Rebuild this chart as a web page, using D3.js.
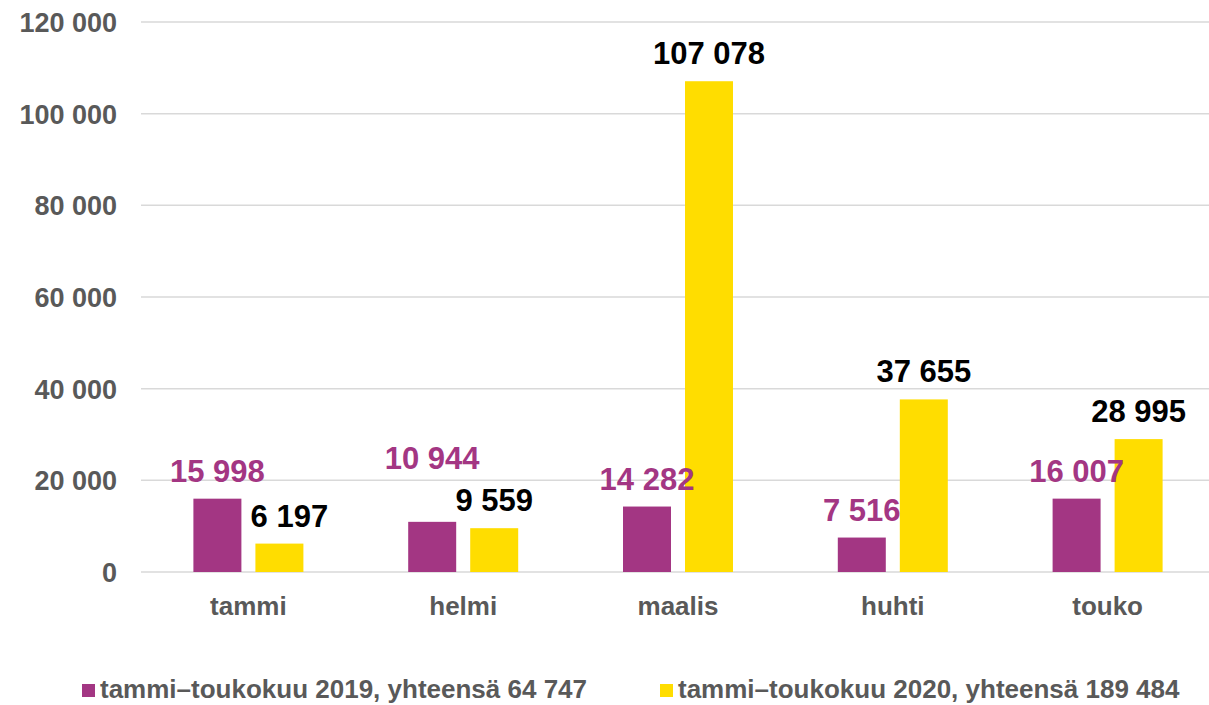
<!DOCTYPE html>
<html>
<head>
<meta charset="utf-8">
<script src="https://cdn.jsdelivr.net/npm/d3@7"></script>
<style>
  body { margin: 0; background: #fff; }
  text { font-family: "Liberation Sans", Arial, sans-serif; font-weight: bold; }
</style>
</head>
<body>
<div id="chart"></div>
<script>
// data
var months = ["tammi", "helmi", "maalis", "huhti", "touko"];
var values2019 = [15998, 10944, 14282, 7516, 16007];
var values2020 = [6197, 9559, 107078, 37655, 28995];
var seriesNames = ["tammi–toukokuu 2019, yhteensä 64 747", "tammi–toukokuu 2020, yhteensä 189 484"];
var yTicks = [0, 20000, 40000, 60000, 80000, 100000, 120000];

var colors = ["#a33683", "#ffdd00"],
    labelColors = ["#a33683", "#000000"];

var fullWidth = 1209, fullHeight = 705;
var margin = {top: 22, left: 141, bottom: 133},
    plotRight = 1215,
    height = fullHeight - margin.top - margin.bottom;

var fmt = function(v) { return d3.format(",")(v).replace(/,/g, " "); };

var svg = d3.select("#chart").append("svg")
    .attr("width", fullWidth)
    .attr("height", fullHeight);

var x0 = d3.scaleBand()
    .domain(months)
    .range([margin.left, plotRight])
    .paddingInner(0);

var x1 = d3.scaleBand()
    .domain([0, 1])
    .range([x0.bandwidth() / 2 - 55, x0.bandwidth() / 2 + 55])
    .paddingInner(0.226);

var y = d3.scaleLinear()
    .domain([0, 120000])
    .range([margin.top + height, margin.top]);

// gridlines
svg.append("g").selectAll("line")
    .data(yTicks)
    .enter().append("line")
    .attr("x1", margin.left)
    .attr("x2", plotRight)
    .attr("y1", function(d) { return y(d); })
    .attr("y2", function(d) { return y(d); })
    .attr("stroke", "#d9d9d9")
    .attr("stroke-width", 1.5);

// y axis labels
var yAxis = d3.axisLeft(y).tickValues(yTicks).tickFormat(fmt).tickSize(0).tickPadding(24);
svg.append("g")
    .attr("transform", "translate(" + margin.left + ",0)")
    .call(yAxis)
    .call(function(g) { g.select(".domain").remove(); })
    .selectAll("text")
    .attr("fill", "#595959")
    .attr("font-size", 27)
    .attr("dy", "0.35em");

// x axis labels
var xAxis = d3.axisBottom(x0).tickSize(0).tickPadding(25);
svg.append("g")
    .attr("transform", "translate(0," + y(0) + ")")
    .call(xAxis)
    .call(function(g) { g.select(".domain").remove(); })
    .selectAll("text")
    .attr("fill", "#595959")
    .attr("font-size", 26);

var rows = months.map(function(m, i) {
    return {month: m, vals: [values2019[i], values2020[i]]};
});

var groups = svg.append("g").selectAll("g")
    .data(rows)
    .enter().append("g")
    .attr("transform", function(d) { return "translate(" + x0(d.month) + ",0)"; });

groups.selectAll("rect")
    .data(function(d) { return d.vals; })
    .enter().append("rect")
    .attr("x", function(d, i) { return x1(i); })
    .attr("width", x1.bandwidth())
    .attr("y", function(d) { return y(d); })
    .attr("height", function(d) { return y(0) - y(d); })
    .attr("fill", function(d, i) { return colors[i]; });

// data labels (a couple nudged like in the original)
var nudge = {"helmi-0": [0, -36], "tammi-1": [10, 0]};

groups.each(function(row) {
    d3.select(this).selectAll("text.lbl")
        .data(row.vals)
        .enter().append("text")
        .attr("class", "lbl")
        .attr("x", function(d, i) {
            var n = nudge[row.month + "-" + i] || [0, 0];
            return x1(i) + x1.bandwidth() / 2 + n[0];
        })
        .attr("y", function(d, i) {
            var n = nudge[row.month + "-" + i] || [0, 0];
            return y(d) - 17 + n[1];
        })
        .attr("text-anchor", "middle")
        .attr("font-size", 31)
        .attr("fill", function(d, i) { return labelColors[i]; })
        .text(fmt);
});

// legend
var legendX = [82, 660];
var legend = svg.append("g").selectAll("g")
    .data(seriesNames)
    .enter().append("g")
    .attr("transform", function(d, i) { return "translate(" + legendX[i] + ",684)"; });

legend.append("rect")
    .attr("width", 13)
    .attr("height", 13)
    .attr("fill", function(d, i) { return colors[i]; });

legend.append("text")
    .attr("x", 18)
    .attr("y", 14)
    .attr("font-size", 26)
    .attr("fill", "#595959")
    .text(function(d) { return d; });
</script>
</body>
</html>
